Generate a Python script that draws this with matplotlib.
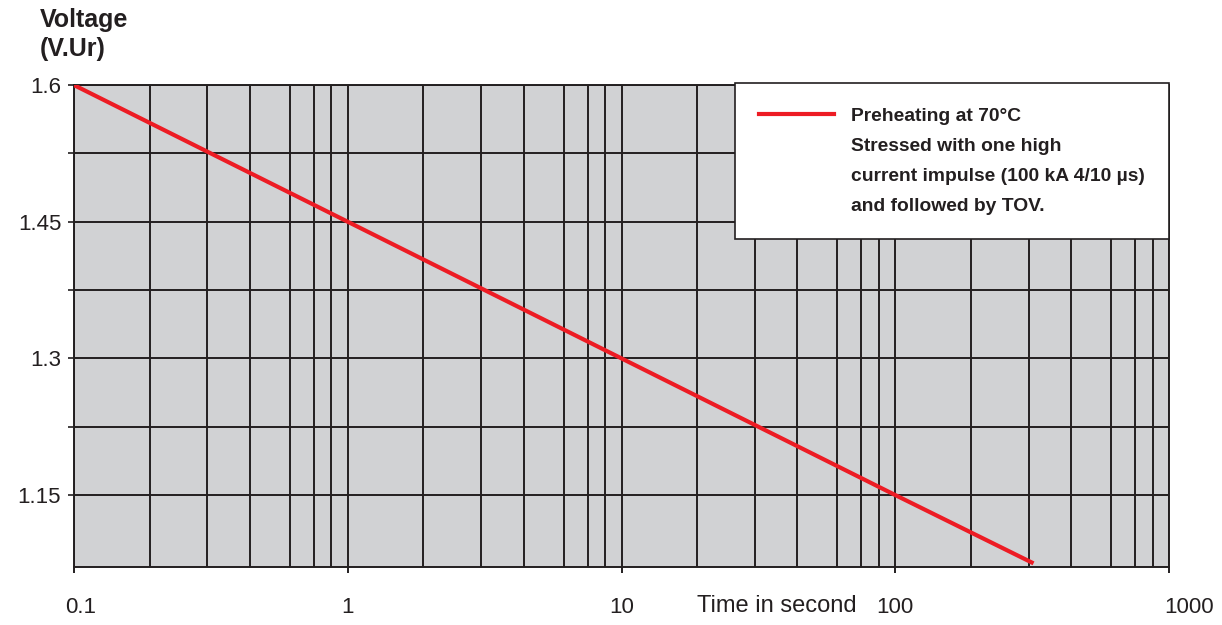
import matplotlib.pyplot as plt
import matplotlib.ticker as mticker
import matplotlib.transforms as mtransforms
from matplotlib.lines import Line2D

plt.rcParams['font.family'] = ['Liberation Sans', 'DejaVu Sans']

# data
time_s = [0.1, 1, 10, 100, 320]
voltage = [1.6, 1.45, 1.30, 1.15, 1.075]

x_ticks = [0.1, 1, 10, 100, 1000]
x_labels = ['0.1', '1', '10', '100', '1000']
y_ticks = [1.15, 1.3, 1.45, 1.6]
y_labels = ['1.15', '1.3', '1.45', '1.6']
y_minor = [1.225, 1.375, 1.525]

legend_lines = ['Preheating at 70°C',
                'Stressed with one high',
                'current impulse (100 kA 4/10 µs)',
                'and followed by TOV.']

grid_col = '#231f20'
tick_fs = 16

fig = plt.figure(figsize=(12.22, 6.25), dpi=100)
ax = fig.add_axes([0.0606, 0.0928, 0.896, 0.771])
ax.set_facecolor('#d1d2d4')

ax.plot(time_s, voltage, color='#ed1c24', lw=3, solid_capstyle='butt', zorder=3)

ax.set_xscale('log')
ax.set_xlim(0.1, 1000)
ax.set_ylim(1.071, 1.6)

ax.xaxis.set_major_locator(mticker.FixedLocator(x_ticks))
ax.xaxis.set_major_formatter(mticker.FixedFormatter(x_labels))
# uneven minor grid as drawn on the original sheet
ax.xaxis.set_minor_locator(mticker.LogLocator(base=10, subs=[1.89, 3.07, 4.39, 6.14, 7.52, 8.71]))
ax.xaxis.set_minor_formatter(mticker.NullFormatter())
ax.set_yticks(y_ticks)
ax.set_yticklabels(y_labels)
ax.set_yticks(y_minor, minor=True)

ax.grid(True, which='both', color=grid_col, lw=1.4)
ax.set_axisbelow(False)
for s in ax.spines.values():
    s.set_color(grid_col)
    s.set_linewidth(1.4)

ax.tick_params(axis='x', which='major', length=4.5, width=1.4, color=grid_col,
               labelsize=tick_fs, pad=17, labelcolor=grid_col)
ax.tick_params(axis='x', which='minor', length=0)
ax.tick_params(axis='y', which='both', length=4.3, width=1.2, color=grid_col,
               labelsize=tick_fs, pad=5, labelcolor=grid_col)

# end labels sit a bit to the right in the original
xl = ax.get_xticklabels()
xl[0].set_transform(xl[0].get_transform() + mtransforms.ScaledTranslation(7 / 100, 0, fig.dpi_scale_trans))
xl[-1].set_transform(xl[-1].get_transform() + mtransforms.ScaledTranslation(20 / 100, 0, fig.dpi_scale_trans))

trans = mtransforms.blended_transform_factory(ax.transData, ax.transAxes)
ax.annotate('Time in second', xy=(18.8, 0), xycoords=trans, xytext=(0, -20.5),
            textcoords='offset points', fontsize=17, ha='left', va='top',
            color=grid_col)

fig.text(40 / 1222, 1 - 8 / 625, 'Voltage\n(V.Ur)', fontsize=18, fontweight='bold',
         ha='left', va='top', linespacing=1.25, color=grid_col)

blank = Line2D([], [], color='none')
handles = [Line2D([], [], color='#ed1c24', lw=3)] + [blank] * 3
leg = ax.legend(handles, legend_lines, loc='upper right', bbox_to_anchor=(1.0, 1.004),
                frameon=True, fancybox=False, framealpha=1, edgecolor=grid_col,
                prop={'weight': 'bold', 'size': 13.9}, handlelength=3.9,
                handletextpad=0.88, labelspacing=0.65, borderpad=1.25,
                borderaxespad=0)
leg.get_frame().set_linewidth(1.2)
for t in leg.get_texts():
    t.set_color(grid_col)

fig.savefig('out.png', dpi=100)
